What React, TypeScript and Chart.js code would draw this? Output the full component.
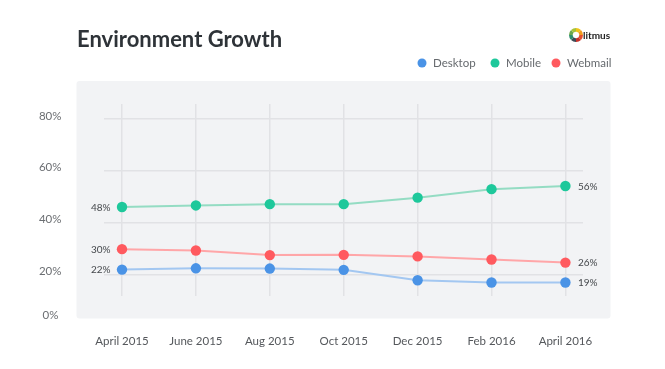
import React, { useEffect, useRef } from 'react';
import { Chart, registerables } from 'chart.js';

Chart.register(...registerables);

const categories = ['April 2015', 'June 2015', 'Aug 2015', 'Oct 2015', 'Dec 2015', 'Feb 2016', 'April 2016'];
const seriesNames = ['Desktop', 'Mobile', 'Webmail'];
const desktop = [21.8, 22.3, 22.2, 21.7, 17.7, 16.8, 16.8];
const mobile = [46.0, 46.6, 47.1, 47.1, 49.6, 52.9, 54.1];
const webmail = [29.7, 29.2, 27.4, 27.5, 26.9, 25.7, 24.5];
const yTicks = [20, 40, 60, 80];
const bottomTickLabel = '0%';
const startLabels = ['22%', '48%', '30%'];
const endLabels = ['19%', '56%', '26%'];
const titleText = 'Environment Growth';
const logoText = 'litmus';

const pointColors = ['#4a93e6', '#1ec89b', '#ff5a5f'];
const lineColors = ['#a3c7f1', '#94dcc3', '#ffa6a8'];
const FONT = 'Lato, "Open Sans", sans-serif';

const decorPlugin = {
  id: 'decor',
  beforeDraw(chart: any) {
    const { ctx, chartArea } = chart;
    const l = chartArea.left - 27.5;
    const r = chartArea.right + 27.5;
    const t = chartArea.top - 23;
    const b = chartArea.bottom + 22.5;
    ctx.save();
    ctx.fillStyle = '#f2f3f5';
    const rad = 3;
    ctx.beginPath();
    ctx.moveTo(l + rad, t);
    ctx.lineTo(r - rad, t);
    ctx.quadraticCurveTo(r, t, r, t + rad);
    ctx.lineTo(r, b - rad);
    ctx.quadraticCurveTo(r, b, r - rad, b);
    ctx.lineTo(l + rad, b);
    ctx.quadraticCurveTo(l, b, l, b - rad);
    ctx.lineTo(l, t + rad);
    ctx.quadraticCurveTo(l, t, l + rad, t);
    ctx.closePath();
    ctx.fill();
    ctx.restore();
  },
  afterDraw(chart: any) {
    const { ctx, chartArea } = chart;
    ctx.save();
    // Title
    ctx.fillStyle = '#2e3338';
    ctx.font = `bold 22px ${FONT}`;
    ctx.textAlign = 'left';
    ctx.textBaseline = 'alphabetic';
    ctx.fillText(titleText, 77, 47);

    // Legend
    const legendX = [422, 495, 556];
    ctx.font = `11.5px ${FONT}`;
    ctx.textBaseline = 'middle';
    seriesNames.forEach((name, i) => {
      ctx.fillStyle = pointColors[i];
      ctx.beginPath();
      ctx.arc(legendX[i], 63, 4.5, 0, Math.PI * 2);
      ctx.fill();
      ctx.fillStyle = '#666a6e';
      ctx.fillText(name, legendX[i] + 11, 63.5);
    });

    // Logo
    const cx = 576, cy = 35, ro = 7, ri = 3.3;
    const segs = ['#f0c419', '#f29a1f', '#e5502e', '#c7312a', '#3d4a55', '#2f8f6e', '#6aa84f', '#a6c23a'];
    segs.forEach((c, i) => {
      const a0 = -Math.PI / 2 + (i * Math.PI * 2) / segs.length;
      const a1 = a0 + (Math.PI * 2) / segs.length;
      ctx.fillStyle = c;
      ctx.beginPath();
      ctx.arc(cx, cy, ro, a0, a1);
      ctx.arc(cx, cy, ri, a1, a0, true);
      ctx.closePath();
      ctx.fill();
    });
    ctx.fillStyle = '#222';
    ctx.font = `bold 10px ${FONT}`;
    ctx.textAlign = 'left';
    ctx.fillText(logoText, 583, 35.5);

    // 0% label
    ctx.fillStyle = '#6b6e72';
    ctx.font = `11.5px ${FONT}`;
    ctx.textAlign = 'center';
    ctx.fillText(bottomTickLabel, 50.5, chartArea.bottom + 19.5);

    // data labels
    ctx.fillStyle = '#45484c';
    ctx.font = `10px ${FONT}`;
    chart.data.datasets.forEach((ds: any, i: number) => {
      const meta = chart.getDatasetMeta(i);
      const first = meta.data[0];
      const last = meta.data[meta.data.length - 1];
      ctx.textAlign = 'right';
      ctx.fillText(startLabels[i], first.x - 11.5, first.y + 0.5);
      ctx.textAlign = 'left';
      ctx.fillText(endLabels[i], last.x + 12.5, last.y + 0.5);
    });
    ctx.restore();
  },
};

export default function App() {
  const ref = useRef<HTMLCanvasElement>(null);
  useEffect(() => {
    document.body.style.margin = '0';
    const series = [desktop, mobile, webmail];
    const chart = new Chart(ref.current as HTMLCanvasElement, {
      type: 'line',
      data: {
        datasets: series.map((vals, i) => ({
          label: seriesNames[i],
          data: vals.map((v, j) => ({ x: j, y: v })),
          borderColor: lineColors[i],
          backgroundColor: pointColors[i],
          pointBackgroundColor: pointColors[i],
          pointBorderColor: pointColors[i],
          pointBorderWidth: 0,
          pointRadius: 5.2,
          borderWidth: 2,
          tension: 0,
          fill: false,
        })),
      },
      options: {
        responsive: false,
        animation: false,
        layout: { padding: { top: 104, right: 82, left: 0, bottom: 0 } },
        plugins: {
          legend: { display: false },
          tooltip: { enabled: false },
          title: { display: false },
        },
        scales: {
          x: {
            type: 'linear',
            min: -0.2436,
            max: 6.238,
            afterBuildTicks: (scale: any) => {
              scale.ticks = categories.map((_, i) => ({ value: i }));
            },
            afterFit: (scale: any) => {
              scale.height = 73;
            },
            ticks: {
              callback: (v: any) => categories[v] ?? '',
              color: '#55585c',
              font: { family: FONT, size: 11.5 },
              padding: 38,
              maxRotation: 0,
              autoSkip: false,
            },
            grid: { color: '#e1e2e5', lineWidth: 1.5, drawTicks: false },
            border: { display: false },
          },
          y: {
            min: 11.6,
            max: 85.8,
            afterBuildTicks: (scale: any) => {
              scale.ticks = yTicks.map((v) => ({ value: v }));
            },
            afterFit: (scale: any) => {
              scale.width = 104;
            },
            ticks: {
              callback: (v: any) => `${v}%`,
              color: '#6b6e72',
              font: { family: FONT, size: 11.5 },
              padding: 42.5,
              crossAlign: 'center',
              labelOffset: -3,
            },
            grid: { color: '#e1e2e5', lineWidth: 1.5, drawTicks: false },
            border: { display: false },
          },
        },
      },
      plugins: [decorPlugin],
    } as any);
    return () => chart.destroy();
  }, []);
  return <canvas ref={ref} width={665} height={369} style={{ display: 'block', width: 665, height: 369 }} />;
}
